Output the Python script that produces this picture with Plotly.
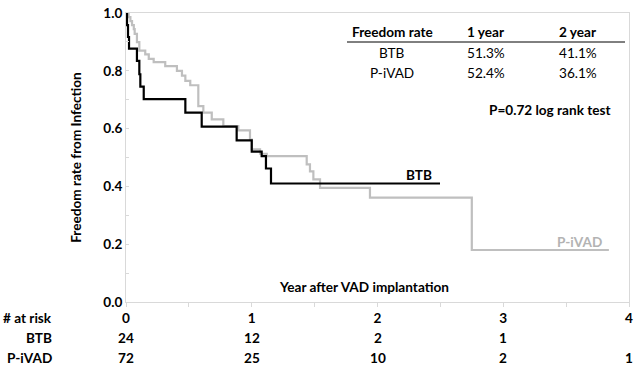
import plotly.graph_objects as go

# ---- data ----
btb_time = [0, 0.008, 0.016, 0.024, 0.087, 0.106, 0.114, 0.141, 0.472, 0.602,
            0.880, 1.000, 1.079, 1.113, 1.153, 2.497]
btb_surv = [1.0, 0.958, 0.917, 0.877, 0.834, 0.788, 0.745, 0.702, 0.655, 0.607,
            0.559, 0.520, 0.505, 0.462, 0.410, 0.410]

piv_time = [0, 0.021, 0.035, 0.048, 0.062, 0.069, 0.087, 0.106, 0.153, 0.181,
            0.220, 0.312, 0.405, 0.445, 0.472, 0.511, 0.575, 0.615, 0.682, 0.774,
            0.893, 0.986, 1.000, 1.066, 1.119, 1.437, 1.463, 1.490, 1.543, 1.940,
            2.750, 3.840]
piv_surv = [1.0, 0.986, 0.972, 0.958, 0.944, 0.928, 0.899, 0.870, 0.857, 0.841,
            0.830, 0.816, 0.800, 0.783, 0.765, 0.750, 0.678, 0.655, 0.632, 0.609,
            0.594, 0.562, 0.528, 0.513, 0.505, 0.476, 0.452, 0.424, 0.395, 0.361,
            0.180, 0.180]

risk_years = [0, 1, 2, 3, 4]
risk_btb = ["24", "12", "2", "1", ""]
risk_piv = ["72", "25", "10", "2", "1"]

table_header = ["Freedom rate", "1 year", "2 year"]
table_rows = [["BTB", "51.3%", "41.1%"], ["P-iVAD", "52.4%", "36.1%"]]
p_text = "P=0.72 log rank test"

BLACK = "#000000"
GRAY = "#bfbfbf"
FRAME = "#d9d9d9"
FONT = "Lato"

fig = go.Figure()
fig.add_trace(go.Scatter(x=piv_time, y=piv_surv, mode="lines", line_shape="hv",
                         line=dict(color=GRAY, width=2.2), showlegend=False))
fig.add_trace(go.Scatter(x=btb_time, y=btb_surv, mode="lines", line_shape="hv",
                         line=dict(color=BLACK, width=2.2), showlegend=False))

W, H = 635, 368
ml, mr, mt, mb = 126, 6, 13, 66
pw, ph = W - ml - mr, H - mt - mb

def px(xp):
    return (xp - ml) / pw

def py(yp):
    return (H - mb - yp) / ph

ann = []
FS = 13.6
bold = dict(family=FONT, size=FS, color="#000000", weight="bold")
reg = dict(family=FONT, size=FS, color="#000000")

# table header
col_x = [392, 486, 578]
for cx, t in zip(col_x, table_header):
    ann.append(dict(x=px(cx), y=py(32), xref="paper", yref="paper", text=t,
                    showarrow=False, font=bold, xanchor="center", yanchor="middle"))
for ry, row in zip([53, 73], table_rows):
    for cx, t in zip(col_x, row):
        ann.append(dict(x=px(cx), y=py(ry), xref="paper", yref="paper", text=t,
                        showarrow=False, font=reg, xanchor="center", yanchor="middle"))
ann.append(dict(x=px(613), y=py(110), xref="paper", yref="paper", text=p_text,
                showarrow=False, font=bold, xanchor="right", yanchor="middle"))

# curve labels
ann.append(dict(x=px(434), y=py(175), xref="paper", yref="paper", text="BTB",
                showarrow=False, font=bold, xanchor="right", yanchor="middle"))
ann.append(dict(x=px(604), y=py(242), xref="paper", yref="paper", text="P-iVAD",
                showarrow=False, font=dict(family=FONT, size=FS, color="#b3b3b3", weight="bold"),
                xanchor="right", yanchor="middle"))

# x axis title inside plot
ann.append(dict(x=px(364), y=py(287), xref="paper", yref="paper",
                text="Year after VAD implantation", showarrow=False, font=bold,
                xanchor="center", yanchor="middle"))

# at-risk table
ann.append(dict(x=px(54), y=py(318), xref="paper", yref="paper", text="# at risk",
                showarrow=False, font=bold, xanchor="right", yanchor="middle"))
ann.append(dict(x=px(54), y=py(338), xref="paper", yref="paper", text="BTB",
                showarrow=False, font=bold, xanchor="right", yanchor="middle"))
ann.append(dict(x=px(54), y=py(358), xref="paper", yref="paper", text="P-iVAD",
                showarrow=False, font=bold, xanchor="right", yanchor="middle"))
for yr, b, p in zip(risk_years, risk_btb, risk_piv):
    if b:
        ann.append(dict(x=yr, y=py(338), xref="x", yref="paper", text=b,
                        showarrow=False, font=bold, xanchor="center", yanchor="middle"))
    if p:
        ann.append(dict(x=yr, y=py(358), xref="x", yref="paper", text=p,
                        showarrow=False, font=bold, xanchor="center", yanchor="middle"))

shapes = [dict(type="line", xref="paper", yref="paper", x0=px(347), x1=px(625),
               y0=py(42), y1=py(42), line=dict(color="#000000", width=1))]

fig.update_layout(
    width=W, height=H,
    margin=dict(l=ml, r=mr, t=mt, b=mb, pad=0, autoexpand=False),
    paper_bgcolor="white", plot_bgcolor="white",
    annotations=ann, shapes=shapes,
    xaxis=dict(range=[0, 4], tickvals=risk_years, ticktext=[str(v) for v in risk_years],
               automargin=False,
               showgrid=False, zeroline=False, showline=True, linecolor=FRAME,
               linewidth=1, mirror=True, ticks="outside", ticklen=4, tickcolor=FRAME,
               minor=dict(dtick=0.5, ticks="outside", ticklen=4, tickcolor=FRAME),
               tickfont=bold),
    yaxis=dict(range=[0, 1], tickvals=[0, 0.2, 0.4, 0.6, 0.8, 1.0],
               ticktext=["0.0", "0.2", "0.4", "0.6", "0.8", "1.0"],
               automargin=False,
               showgrid=False, zeroline=False, showline=True, linecolor=FRAME,
               linewidth=1, mirror=True, ticks="inside", ticklen=3, tickcolor=FRAME,
               minor=dict(dtick=0.1, ticks="inside", ticklen=3, tickcolor=FRAME),
               tickfont=bold,
               title=dict(text="Freedom rate from Infection", font=bold, standoff=18)),
)

fig.write_html("out.html", config={"displayModeBar": False},
               post_script="document.body.style.margin='0';document.body.style.overflow='hidden';")
